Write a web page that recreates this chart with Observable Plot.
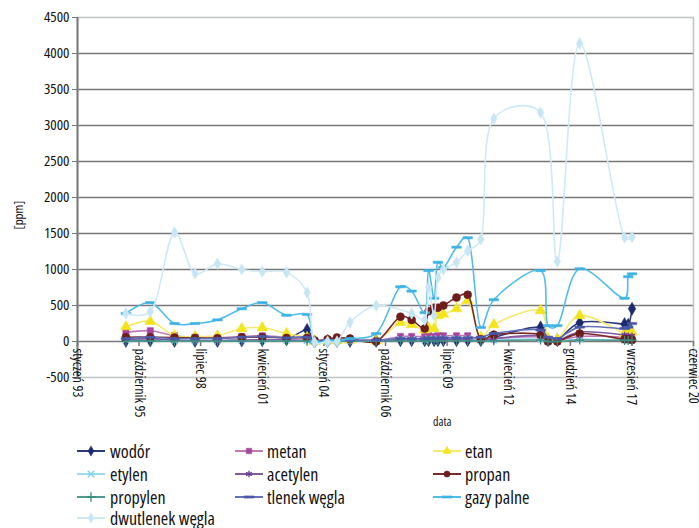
<!DOCTYPE html>
<html><head><meta charset="utf-8">
<script src="https://cdn.jsdelivr.net/npm/d3@7"></script>
<script src="https://cdn.jsdelivr.net/npm/@observablehq/plot@0.6"></script>
<style>
body{margin:0;background:#fff;font-family:"Open Sans",sans-serif;font-stretch:75%;color:#111;}
#wrap{position:relative;width:699px;height:528px;overflow:hidden;}
#chart{position:absolute;left:0;top:0;}
#xlabel{position:absolute;left:433px;top:413px;font-size:12px;}
#ylabel{position:absolute;left:-2px;top:206px;width:40px;text-align:center;font-size:13px;transform:rotate(-90deg);}
.item{position:absolute;font-size:18px;font-stretch:82%;height:20px;line-height:20px;white-space:nowrap;}
</style></head><body>
<div id="wrap"><div id="chart"></div><div id="xlabel">data</div><div id="ylabel">[ppm]</div></div>
<script>
// ---- data ----
const dates = ["1995-03","1996-04","1997-05","1998-04","1999-04","2000-05","2001-04","2002-05","2003-04","2003-08","2004-03","2004-08","2005-03","2006-05","2007-06","2007-12","2008-07","2008-09","2008-12","2009-02","2009-05","2009-12","2010-06","2011-01","2011-08","2013-09","2014-01","2014-06","2015-06","2017-06","2017-08","2017-10"];
const wodor     = [10,15,10,10,10,15,20,30,160,0,10,10,10,10,20,20,20,20,20,20,20,20,20,20,60,195,20,20,260,240,230,455];
const metan     = [125,150,80,60,50,70,80,60,50,10,20,30,20,10,70,70,70,80,70,80,80,80,80,30,40,60,0,10,70,60,50,50];
const etan      = [205,280,80,70,80,180,190,110,55,0,10,10,20,10,265,235,160,190,180,360,380,455,570,60,235,430,40,30,360,110,100,130];
const etylen    = [20,30,10,10,10,20,20,15,10,0,5,5,10,10,30,30,20,40,30,40,40,40,40,10,20,30,0,0,30,20,20,20];
const acetylen  = [30,40,20,10,10,20,25,20,15,0,5,5,5,5,20,20,20,25,20,25,25,25,25,10,40,80,10,10,130,90,80,80];
const propan    = [60,60,55,50,45,60,60,50,50,15,30,55,40,0,345,300,180,420,470,470,500,610,650,30,95,95,0,0,110,30,30,20];
const propylen  = [5,5,5,5,5,5,5,5,5,0,5,5,5,5,10,10,10,10,10,10,10,10,10,5,10,20,0,0,20,15,15,15];
const tlenek    = [40,60,40,40,40,60,70,50,60,0,10,10,20,20,40,40,40,50,40,50,50,50,50,60,110,160,60,40,200,180,200,250];
const gazy      = [390,540,250,250,300,455,540,365,375,0,10,10,40,110,760,700,400,985,600,1100,1030,1310,1440,195,580,985,220,220,1010,600,900,940];
const dwutlenek = [390,415,1515,945,1080,1000,970,960,680,-10,0,0,265,500,null,390,300,750,360,890,1000,1100,1260,1420,3095,3180,null,1110,4140,1445,null,1450];

const seriesNames  = ["wodór","metan","etan","etylen","acetylen","propan","propylen","tlenek węgla","gazy palne","dwutlenek węgla"];
const seriesValues = [wodor,metan,etan,etylen,acetylen,propan,propylen,tlenek,gazy,dwutlenek];
const seriesColors = ["#1c2a6c","#a8469c","#f3e41c","#7fd2e8","#6a3c90","#6e1c1c","#3a8a7e","#4b58a8","#3cb3e4","#c6e6f4"];
const lineColors   = ["#2a3a80","#c07ab8","#f6ea70","#9adbee","#7f5aa0","#7a2a2a","#4e9a8e","#6470b8","#52bde8","#cfeaf6"];

const yTicks = [-500,0,500,1000,1500,2000,2500,3000,3500,4000,4500];
const tickDates  = ["1993-01-01","1995-10-01","1998-07-01","2001-04-01","2004-01-01","2006-10-01","2009-07-01","2012-04-01","2014-12-31","2017-09-30","2020-06-29"];
const tickLabels = ["styczeń 93","październik 95","lipiec 98","kwiecień 01","styczeń 04","październik 06","lipiec 09","kwiecień 12","grudzień 14","wrzesień 17","czerwiec 20"];

// ---- symbols ----
const dash = {draw(ctx, size){ const w = Math.sqrt(size)*0.9; ctx.rect(-w,-1.1,2*w,2.2); }};
const seriesSymbols = ["diamond","square","triangle","times","asterisk","circle","plus",dash,dash,"diamond"];
const symbolFilled  = [true,true,true,false,false,true,false,true,true,true];
const symbolSizes   = [4,3.5,4,3,3,4,3,3,3,3.5];

const parse = d3.utcParse("%Y-%m");
const tickD = tickDates.map(d3.utcParse("%Y-%m-%d"));
const FONT = '"Open Sans",sans-serif';
const smooth = d3.curveCatmullRom.alpha(0.35);

const marks = [];
marks.push(Plot.ruleY(yTicks.filter(v => v > -500 && v < 4500), {stroke:"#777", strokeWidth:1.7}));
marks.push(Plot.frame({stroke:"#c0c6c6", strokeWidth:1.6}));
marks.push(Plot.ruleX([tickD[0]], {stroke:"#7a7a7a", strokeWidth:2}));
marks.push(Plot.ruleX(tickD, {y1: tickD.map(()=>0), y2: tickD.map(()=>0), insetBottom:-5, stroke:"#777", strokeWidth:1.5}));
marks.push(Plot.axisY({ticks: yTicks, tickFormat: d => String(d), tickSize:5, tickPadding:3, fontSize:15, label:null, stroke:"#777"}));

seriesNames.forEach((name, s) => {
  const rows = [];
  seriesValues[s].forEach((v, i) => { if (v != null) rows.push({date: parse(dates[i]), value: v}); });
  marks.push(Plot.line(rows, {x:"date", y:"value", stroke: lineColors[s], strokeWidth:1.6, curve: smooth}));
  marks.push(Plot.dot(rows, {x:"date", y:"value", symbol: () => seriesSymbols[s], r: symbolSizes[s],
    fill: symbolFilled[s] ? seriesColors[s] : "none", stroke: seriesColors[s], strokeWidth: symbolFilled[s] ? 0.5 : 1.3}));
});

marks.push(Plot.text(tickD, {x: d => d, y: tickD.map(()=>0), text: tickLabels, rotate: 90, textAnchor: "start", dy: 7, fontSize: 14}));

const chart = Plot.plot({
  width: 699, height: 432,
  marginLeft: 77, marginRight: 6, marginTop: 17, marginBottom: 55,
  style: {fontFamily: FONT, fontStretch: "75%", fontSize: "14px", color: "#111", background: "transparent", overflow: "visible"},
  x: {type: "utc", domain: [tickD[0], tickD[tickD.length-1]], axis: null},
  y: {domain: [-500, 4500], axis: null},
  symbol: {type: "identity"},
  marks
});
document.getElementById("chart").appendChild(chart);

// ---- legend ----
const wrap = document.getElementById("wrap");
const colText = [110, 267, 465];
const colSw = [77, 235, 433];
const rowY = [451, 474, 497, 518];
const d3sym = {diamond: d3.symbolDiamond, square: d3.symbolSquare, triangle: d3.symbolTriangle, times: d3.symbolTimes,
    asterisk: d3.symbolAsterisk, circle: d3.symbolCircle, plus: d3.symbolPlus};
seriesNames.forEach((name, s) => {
  const r = Math.floor(s / 3), c = s % 3;
  const sw = d3.create("svg").attr("width", 28).attr("height", 14).style("position","absolute").style("left", colSw[c] + "px").style("top", (rowY[r]-7) + "px");
  sw.append("line").attr("x1",0).attr("x2",28).attr("y1",7).attr("y2",7).attr("stroke", lineColors[s]).attr("stroke-width", 2);
  const symType = typeof seriesSymbols[s] === "string" ? d3sym[seriesSymbols[s]] : seriesSymbols[s];
  sw.append("path").attr("transform","translate(14,7)").attr("d", d3.symbol(symType, 30)())
    .attr("fill", symbolFilled[s] ? seriesColors[s] : "none").attr("stroke", seriesColors[s]).attr("stroke-width", symbolFilled[s] ? 0.5 : 1.3);
  wrap.appendChild(sw.node());
  const t = document.createElement("div");
  t.className = "item"; t.textContent = name;
  t.style.left = colText[c] + "px"; t.style.top = (rowY[r] - 10) + "px";
  wrap.appendChild(t);
});
</script>
</body></html>
